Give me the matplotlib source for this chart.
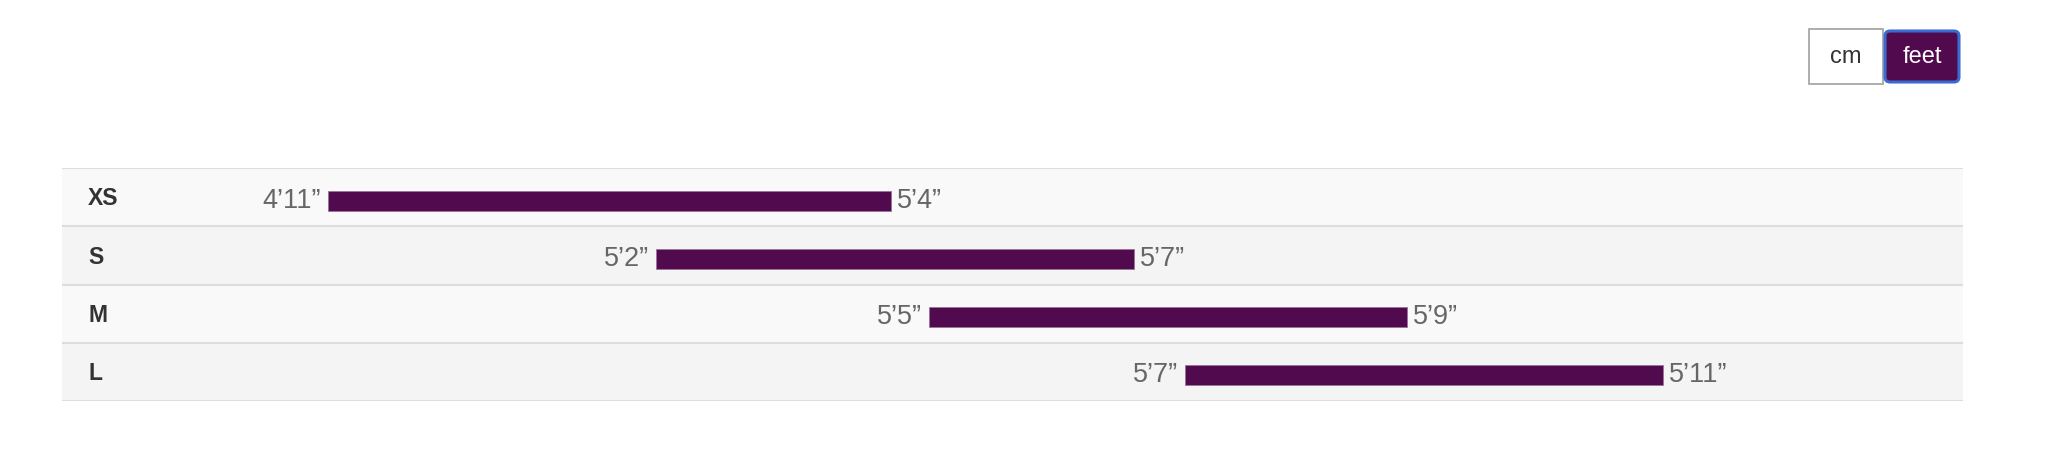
#!/usr/bin/env python3
"""Size guide range chart (height per size, feet view)."""
import matplotlib.pyplot as plt
import matplotlib as mpl
from matplotlib.patches import FancyBboxPatch, Rectangle

mpl.rcParams.update({
    "font.family": ["Liberation Sans", "DejaVu Sans"],
    "figure.facecolor": "white",
})

# data: bar extents as drawn (percent of the track), and the height labels
sizes = ["XS", "S", "M", "L"]
range_start = [14.0, 31.25, 45.6, 59.1]
range_end = [43.6, 56.4, 70.75, 84.2]
label_low = ["4’11”", "5’2”", "5’5”", "5’7”"]
label_high = ["5’4”", "5’7”", "5’9”", "5’11”"]
units = ["cm", "feet"]

PURPLE = "#520a4f"
W, H = 2048, 472

fig = plt.figure(figsize=(W / 100, H / 100), dpi=100)

# table area in pixels (left, top, right, bottom)
L, T, R, B = 62, 168, 1963, 401
ax = fig.add_axes([L / W, (H - B) / H, (R - L) / W, (B - T) / H])
ax.set_xlim(0, 100)
ax.set_ylim(len(sizes), 0)
ax.axis("off")

row_bg = ["#f9f9f9", "#f4f4f4"]
for i, size in enumerate(sizes):
    ax.axhspan(i, i + 1, color=row_bg[i % 2], zorder=0, lw=0)
    ax.text(1.37, i + 0.53, size, ha="left", va="center", fontsize=16.5,
            fontweight="bold", color="#333333")
for i in range(len(sizes) + 1):
    ax.axhline(i, color="#dddddd", lw=1.5, zorder=1)

yc = [i + 0.56 for i in range(len(sizes))]
widths = [e - s for s, e in zip(range_start, range_end)]
ax.barh(yc, widths, left=range_start, height=0.34, color=PURPLE,
        edgecolor="#9a7398", linewidth=0.6, zorder=2)

for y, s, e, lo, hi in zip(yc, range_start, range_end, label_low, label_high):
    ax.annotate(lo, (s, y), xytext=(-5, 0), textcoords="offset points",
                ha="right", va="center", fontsize=19.5, color="#666666")
    ax.annotate(hi, (e, y), xytext=(4.5, 0), textcoords="offset points",
                ha="left", va="center", fontsize=19.5, color="#666666")

# unit toggle buttons (top right)
ui = fig.add_axes([0, 0, 1, 1], facecolor="none")
ui.set_xlim(0, W)
ui.set_ylim(H, 0)
ui.axis("off")
ui.add_patch(Rectangle((1809, 29), 74, 55, facecolor="white",
                       edgecolor="#a0a0a0", lw=1.2))
ui.add_patch(FancyBboxPatch((1885, 31), 74, 51,
                            boxstyle="round,pad=0,rounding_size=5",
                            facecolor=PURPLE, edgecolor="#3a6bd0", lw=2.2))
ui.text(1846, 57, units[0], ha="center", va="center", fontsize=17, color="#333333")
ui.text(1922, 57, units[1], ha="center", va="center", fontsize=17, color="white")

fig.savefig("out.png", dpi=100, facecolor="white")
